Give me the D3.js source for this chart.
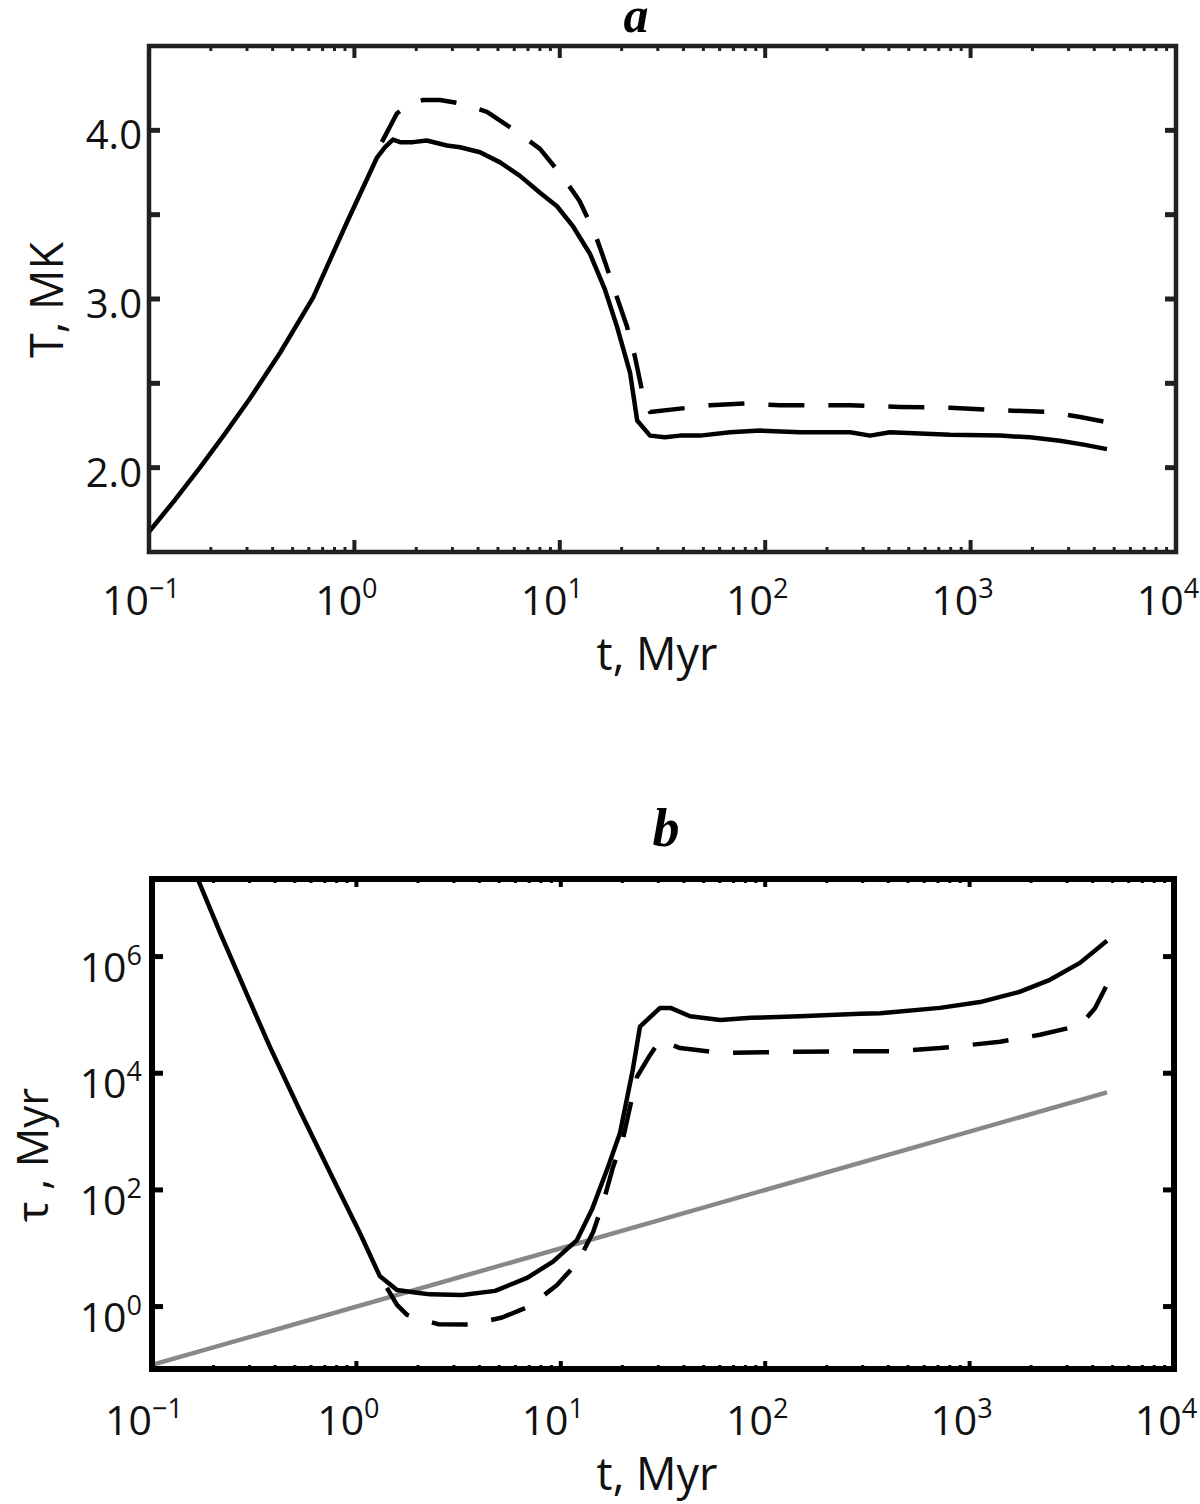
<!DOCTYPE html>
<html>
<head>
<meta charset="utf-8">
<script src="https://cdn.jsdelivr.net/npm/d3@7"></script>
<style>
  body { margin: 0; background: #fff; }
  svg { display: block; }
  text { font-family: "Open Sans", "Noto Sans", sans-serif; fill: #111; }
</style>
</head>
<body>
<svg id="chart" width="1200" height="1504"></svg>
<script>
// panel a : temperature (MK) vs t (Myr)
var aSolidT = [0.1, 0.134, 0.177, 0.234, 0.31, 0.434, 0.63, 0.92, 1.29, 1.41, 1.54, 1.67, 1.93, 2.25, 2.82, 3.27, 4.09, 5.12, 6.4, 8.01, 9.69, 11.6, 14.0, 16.6, 19.0, 22.0, 23.8, 27.5, 32.5, 38.5, 48.2, 67.4, 94.4, 148, 259, 324, 405, 794, 1390, 1945, 2723, 3605, 4613];
var aSolidV = [1.62, 1.81, 2.00, 2.20, 2.41, 2.68, 3.01, 3.455, 3.84, 3.90, 3.945, 3.93, 3.93, 3.94, 3.91, 3.90, 3.87, 3.81, 3.73, 3.63, 3.55, 3.43, 3.27, 3.055, 2.835, 2.56, 2.28, 2.19, 2.18, 2.19, 2.19, 2.21, 2.22, 2.21, 2.21, 2.19, 2.21, 2.195, 2.19, 2.18, 2.16, 2.135, 2.11];
var aDashT = [1.36, 1.61, 1.87, 2.16, 2.61, 3.27, 4.42, 6.19, 8.01, 10.4, 12.5, 14.8, 16.6, 18.6, 21.2, 23.2, 25.4, 27.5, 38.5, 53.8, 79.8, 118, 259, 453, 794, 1390, 2438, 3412, 4613];
var aDashV = [3.93, 4.10, 4.16, 4.18, 4.18, 4.16, 4.11, 3.99, 3.89, 3.72, 3.58, 3.39, 3.22, 3.04, 2.84, 2.66, 2.43, 2.33, 2.35, 2.37, 2.38, 2.37, 2.37, 2.36, 2.355, 2.34, 2.33, 2.30, 2.27];
var aYTicks = [2.0, 2.5, 3.0, 3.5, 4.0];
var aYLabels = [2.0, 3.0, 4.0];

// panel b : timescale tau (Myr) vs t (Myr)
var bSolidT = [0.166, 0.215, 0.292, 0.378, 0.53, 0.769, 1.04, 1.30, 1.58, 1.98, 2.29, 3.29, 4.77, 6.84, 9.16, 12.0, 14.2, 17.0, 19.5, 22.5, 24.4, 30.6, 34.4, 42.9, 60.4, 85, 148, 291, 365, 716, 1125, 1766, 2472, 3467, 4700];
var bSolidV = [2.3e7, 2.6e6, 2.2e5, 2.8e4, 2.26e3, 155, 18.3, 3.36, 1.93, 1.72, 1.62, 1.58, 1.86, 3.1, 5.9, 13.8, 46, 245, 955, 1.15e4, 6.3e4, 1.32e5, 1.32e5, 9.5e4, 8.2e4, 8.9e4, 9.5e4, 1.05e5, 1.07e5, 1.32e5, 1.66e5, 2.5e5, 4.0e5, 7.8e5, 1.86e6];
var bDashT = [1.41, 1.58, 1.77, 2.51, 3.60, 5.16, 7.07, 9.58, 12.1, 14.4, 16.1, 18.0, 20.1, 21.8, 23.6, 27.3, 30.6, 38.3, 60.4, 148, 456, 716, 1409, 2208, 3467, 4105, 4700];
var bDashV = [2.1, 1.07, 0.72, 0.50, 0.49, 0.65, 1.02, 2.34, 5.75, 19, 60, 245, 724, 2630, 8710, 2.04e4, 3.7e4, 2.7e4, 2.24e4, 2.34e4, 2.4e4, 2.7e4, 3.47e4, 4.57e4, 6.6e4, 1.3e5, 3.3e5];
var bGrayT = [0.1, 4700];
var bGrayV = [0.1, 4700];
var bYExps = [0, 2, 4, 6];

var xExps = [-1, 0, 1, 2, 3, 4];

var svg = d3.select("#chart");

function zip(xs, ys) {
    return xs.map(function (x, i) { return [x, ys[i]]; });
}

// minor ticks 2..9 in every decade
function minorTicks() {
    var out = [];
    for (var e = -1; e < 4; e++) {
        for (var m = 2; m <= 9; m++) out.push(m * Math.pow(10, e));
    }
    return out;
}

function powLabel(g, x, y, exp, anchor) {
    var t = g.append("text")
        .attr("x", x).attr("y", y)
        .attr("text-anchor", anchor)
        .style("font-size", "41px");
    t.append("tspan").text("10");
    t.append("tspan")
        .attr("dy", -17)
        .style("font-size", "27px")
        .text(exp < 0 ? "\u2212" + (-exp) : exp);
}

function drawPanel(opt) {
    var g = svg.append("g");
    var x = opt.x, y = opt.y;
    var x0 = x.range()[0], x1 = x.range()[1];
    var yb = y.range()[0], yt = y.range()[1];

    var clipId = "clip" + opt.name;
    svg.append("clipPath").attr("id", clipId)
        .append("rect")
        .attr("x", x0).attr("y", yt)
        .attr("width", x1 - x0).attr("height", yb - yt);

    var line = d3.line()
        .x(function (d) { return x(d[0]); })
        .y(function (d) { return y(d[1]); });

    var curves = g.append("g").attr("clip-path", "url(#" + clipId + ")");
    opt.series.forEach(function (s) {
        curves.append("path")
            .datum(s.data)
            .attr("d", line)
            .attr("fill", "none")
            .attr("stroke", s.color)
            .attr("stroke-width", s.width)
            .attr("stroke-linejoin", "round")
            .attr("stroke-dasharray", s.dash || null);
    });

    var tc = opt.tickColor;

    // x ticks, bottom + top, pointing in
    var majX = xExps.map(function (e) { return Math.pow(10, e); });
    var ticks = g.append("g");
    minorTicks().forEach(function (v) {
        var px = x(v);
        ticks.append("line").attr("x1", px).attr("x2", px).attr("y1", yb).attr("y2", yb - opt.minorLen)
            .attr("stroke", tc).attr("stroke-width", 3);
        ticks.append("line").attr("x1", px).attr("x2", px).attr("y1", yt).attr("y2", yt + opt.minorLen)
            .attr("stroke", tc).attr("stroke-width", 3);
    });
    majX.forEach(function (v) {
        var px = x(v);
        ticks.append("line").attr("x1", px).attr("x2", px).attr("y1", yb).attr("y2", yb - opt.majorLen)
            .attr("stroke", tc).attr("stroke-width", 4);
        ticks.append("line").attr("x1", px).attr("x2", px).attr("y1", yt).attr("y2", yt + opt.majorLen)
            .attr("stroke", tc).attr("stroke-width", 4);
    });

    // y ticks, left + right
    opt.yTicks.forEach(function (v) {
        var py = y(v);
        ticks.append("line").attr("x1", x0).attr("x2", x0 + 11).attr("y1", py).attr("y2", py)
            .attr("stroke", tc).attr("stroke-width", 5);
        ticks.append("line").attr("x1", x1).attr("x2", x1 - 11).attr("y1", py).attr("y2", py)
            .attr("stroke", tc).attr("stroke-width", 5);
    });

    // frame
    g.append("rect")
        .attr("x", x0).attr("y", yt)
        .attr("width", x1 - x0).attr("height", yb - yt)
        .attr("fill", "none")
        .attr("stroke", opt.frameColor)
        .attr("stroke-width", opt.frameWidth);

    // x tick labels
    xExps.forEach(function (e) {
        powLabel(g, x(Math.pow(10, e)) - 8, opt.xLabelY, e, "middle");
    });

    // y tick labels
    opt.yLabel(g, x0, y);

    // axis titles
    g.append("text")
        .attr("x", 657).attr("y", opt.xTitleY)
        .attr("text-anchor", "middle")
        .style("font-size", "45px")
        .text("t, Myr");

    g.append("text")
        .attr("transform", "translate(" + opt.yTitleX + "," + opt.yTitleY + ") rotate(-90)")
        .attr("text-anchor", "middle")
        .style("font-size", opt.yTitleSize)
        .text(opt.yTitle);

    g.append("text")
        .attr("x", opt.letterX).attr("y", opt.letterY)
        .attr("text-anchor", "middle")
        .style("font-family", "'Liberation Serif', 'DejaVu Serif', serif")
        .style("font-weight", "bold")
        .style("font-style", "italic")
        .style("font-size", opt.letterSize)
        .style("fill", "#000")
        .text(opt.name);
}

// panel a
var xa = d3.scaleLog().domain([0.1, 1e4]).range([149, 1176]);
var ya = d3.scaleLinear().domain([1.5, 4.5]).range([552, 46]);

drawPanel({
    name: "a",
    x: xa, y: ya,
    series: [
        { data: zip(aSolidT, aSolidV), color: "#000", width: 4.5 },
        { data: zip(aDashT, aDashV), color: "#000", width: 4.5, dash: "36,24" }
    ],
    tickColor: "#231f20",
    frameColor: "#231f20",
    frameWidth: 4.5,
    majorLen: 12,
    minorLen: 5,
    yTicks: aYTicks,
    yLabel: function (g, x0, y) {
        aYLabels.forEach(function (v) {
            g.append("text")
                .attr("x", x0 - 7).attr("y", y(v) + 19)
                .attr("text-anchor", "end")
                .style("font-size", "40px")
                .text(d3.format(".1f")(v));
        });
    },
    xLabelY: 615,
    xTitleY: 670,
    yTitle: "T, MK",
    yTitleSize: "45px",
    yTitleX: 63,
    yTitleY: 300,
    letterX: 636,
    letterY: 32,
    letterSize: "50px"
});

// panel b
var xb = d3.scaleLog().domain([0.1, 1e4]).range([152, 1174]);
var yb = d3.scaleLog().domain([Math.pow(10, -1.07), Math.pow(10, 7.33)]).range([1369, 879]);

drawPanel({
    name: "b",
    x: xb, y: yb,
    series: [
        { data: zip(bGrayT, bGrayV), color: "#888888", width: 4.5 },
        { data: zip(bSolidT, bSolidV), color: "#000", width: 4.5 },
        { data: zip(bDashT, bDashV), color: "#000", width: 4.5, dash: "36,24" }
    ],
    tickColor: "#000",
    frameColor: "#000",
    frameWidth: 6,
    majorLen: 8,
    minorLen: 4,
    yTicks: bYExps.map(function (e) { return Math.pow(10, e); }),
    yLabel: function (g, x0, y) {
        bYExps.forEach(function (e) {
            powLabel(g, x0 - 10, y(Math.pow(10, e)) + 25, e, "end");
        });
    },
    xLabelY: 1435,
    xTitleY: 1490,
    yTitle: "\u03c4 , Myr",
    yTitleSize: "44px",
    yTitleX: 48,
    yTitleY: 1155,
    letterX: 666,
    letterY: 846,
    letterSize: "54px"
});
</script>
</body>
</html>
